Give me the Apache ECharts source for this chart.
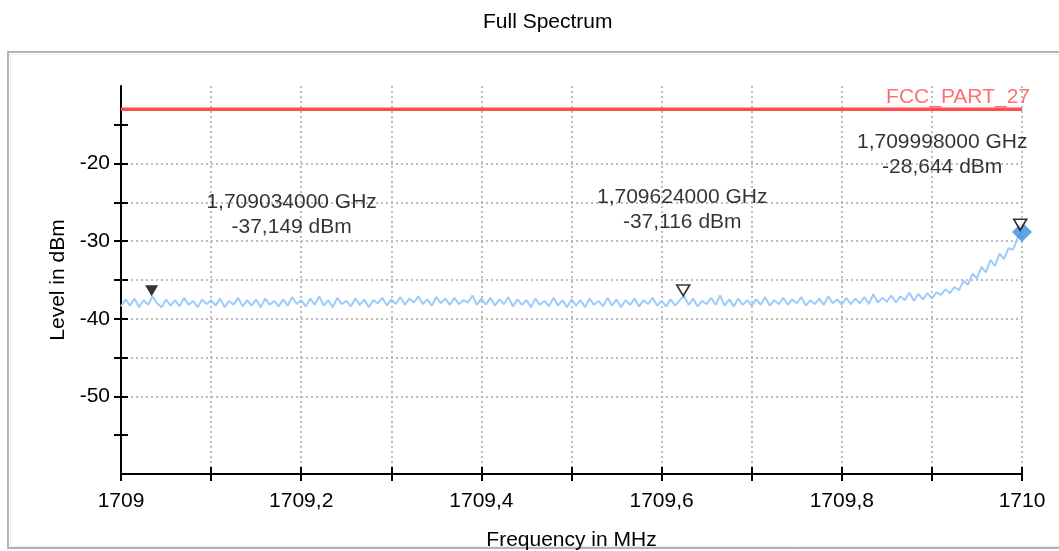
<!DOCTYPE html>
<html><head><meta charset="utf-8">
<script src="https://cdn.jsdelivr.net/npm/echarts@6/dist/echarts.min.js"></script>
<style>html,body{margin:0;padding:0;background:#fff}#c{width:1059px;height:551px}</style>
</head><body><div id="c"></div>
<script>
const chartTitle = 'Full Spectrum';
const xName = 'Frequency in MHz';
const yName = 'Level in dBm';
const freqStart = 1709;
const freqStep = 0.005;
const traceLevels = [
-38.4,-37.5,-38.3,-37.4,-38.5,-37.6,-38.2,-37.1,-38.0,-38.5,-37.5,-38.3,-37.6,-38.4,-37.3,-38.2,-37.7,-38.5,-37.5,-38.1,-37.6,
-38.3,-37.4,-38.5,-37.7,-38.2,-37.3,-38.4,-37.6,-38.3,-37.5,-38.5,-37.4,-38.2,-37.7,-38.4,-37.5,-38.3,-37.2,-38.1,-37.6,
-38.4,-37.4,-38.2,-37.1,-38.3,-37.6,-38.5,-37.3,-38.1,-37.7,-38.4,-37.4,-38.2,-37.5,-38.5,-37.6,-38.0,-37.3,-38.3,-37.5,
-38.1,-37.2,-38.2,-37.4,-37.9,-37.1,-38.1,-37.5,-38.3,-37.2,-38.0,-37.4,-38.2,-37.3,-38.1,-37.6,-37.9,-37.0,-38.2,-37.4,
-38.2,-37.3,-38.3,-37.5,-38.1,-37.2,-38.4,-37.5,-38.2,-37.6,-38.5,-37.4,-38.2,-37.7,-38.4,-37.3,-38.3,-37.6,-38.5,-37.5,
-38.3,-37.6,-38.5,-37.4,-38.2,-37.7,-38.4,-37.3,-38.3,-37.5,-38.5,-37.6,-38.2,-37.4,-38.4,-37.6,-38.1,-37.3,-38.3,-37.7,
-38.4,-37.5,-38.3,-37.6,-37.1,-38.2,-37.4,-38.4,-37.7,-38.1,-37.3,-38.2,-37.0,-38.3,-37.5,-38.4,-37.4,-38.2,-37.6,-38.3,
-37.5,-38.2,-37.2,-38.3,-37.6,-38.1,-37.3,-38.2,-37.5,-38.0,-37.2,-38.3,-37.6,-38.1,-37.4,-38.2,-37.1,-38.0,-37.5,-38.2,
-37.3,-38.1,-37.4,-38.0,-37.2,-38.1,-36.8,-37.9,-37.3,-37.8,-37.0,-37.9,-37.1,-37.6,-36.6,-37.7,-36.8,-37.5,-36.7,-37.4,
-36.6,-36.9,-36.2,-36.7,-35.9,-36.3,-35.1,-35.6,-34.2,-34.8,-33.3,-34.0,-32.4,-33.2,-31.6,-32.3,-30.9,-31.1,-29.6,-28.8
];
const xTickValues = [1709,1709.1,1709.2,1709.3,1709.4,1709.5,1709.6,1709.7,1709.8,1709.9,1710];
const xLabelValues = [1709,1709.2,1709.4,1709.6,1709.8,1710];
const xLabelTexts = ['1709','1709,2','1709,4','1709,6','1709,8','1710'];
const yTickValues = [-55,-50,-45,-40,-35,-30,-25,-20,-15];
const yLabelValues = [-50,-40,-30,-20];
const yLabelTexts = ['-50','-40','-30','-20'];
const limitName = 'FCC_PART_27';
const limitFreqs = [1709, 1710];
const limitLevels = [-13, -13];
const markerFreqs = [1709.034, 1709.624, 1709.998];
const markerLevels = [-37.149, -37.116, -28.644];
const markerFilled = [true, false, false];
const markerTexts = ['1,709034000 GHz\n-37,149 dBm', '1,709624000 GHz\n-37,116 dBm', '1,709998000 GHz\n-28,644 dBm'];

const FONT = 'Liberation Sans';
const labelOffsets = [[140,-82],[-1,-87],[-78,-76]];
const traceData = traceLevels.map((v,i)=>[+(freqStart+i*freqStep).toFixed(3), v]);
const lastPt = traceData[traceData.length-1];

function lookup(vals, texts, v){
  for (let i=0;i<vals.length;i++) if (Math.abs(vals[i]-v)<1e-6) return texts[i];
  return '';
}
const triPath = 'path://M0,0L12,0L6,11Z';

const chart = echarts.init(document.getElementById('c'), null, {renderer:'canvas'});
chart.setOption({
  animation: false,
  backgroundColor: '#fff',
  title: {text: chartTitle, left: 478, top: 7,
    textStyle: {fontFamily: FONT, fontSize: 21, fontWeight: 'normal', color: '#000'}},
  graphic: [
    {type:'rect', silent:true, z:-10, shape:{x:8,y:52,width:1100,height:496},
     style:{fill:'none', stroke:'#b4b4b4', lineWidth:2}},
    {type:'rect', silent:true, z:-10, shape:{x:10.5,y:54.5,width:1100,height:492},
     style:{fill:'none', stroke:'#ececec', lineWidth:1}}
  ],
  grid: {left: 121, right: 37, top: 86, bottom: 77, outerBoundsMode: 'none', containLabel: false},
  xAxis: [{
    type: 'value', min: 1709, max: 1710, interval: 0.1, position: 'bottom',
    name: xName, nameLocation: 'middle', nameGap: 56,
    nameTextStyle: {fontFamily: FONT, fontSize: 21, color: '#000'},
    axisLine: {show: true, lineStyle: {color: '#000', width: 2}},
    axisTick: {show: true, length: 7, customValues: xTickValues, lineStyle: {color: '#000', width: 2}},
    axisLabel: {show: true, customValues: xLabelValues, margin: 17, fontFamily: FONT, fontSize: 21, color: '#000',
      formatter: v => lookup(xLabelValues, xLabelTexts, v)},
    splitLine: {show: true, showMinLine: false, lineStyle: {color: '#a8a8a8', type: [2,3], width: 1.5}}
  },{
    type: 'value', min: 1709, max: 1710, interval: 0.1, position: 'bottom',
    axisLine: {show: false},
    axisTick: {show: true, inside: true, length: 7, customValues: xTickValues, lineStyle: {color: '#000', width: 2}},
    axisLabel: {show: false}, splitLine: {show: false}
  }],
  yAxis: [{
    type: 'value', min: -60, max: -10, interval: 5, position: 'left',
    name: yName, nameLocation: 'middle', nameGap: 50,
    nameTextStyle: {fontFamily: FONT, fontSize: 21, color: '#000'},
    axisLine: {show: true, lineStyle: {color: '#000', width: 2}},
    axisTick: {show: true, length: 7, customValues: yTickValues, lineStyle: {color: '#000', width: 2}},
    axisLabel: {show: true, customValues: yLabelValues, margin: 11, fontFamily: FONT, fontSize: 21, color: '#000',
      formatter: v => lookup(yLabelValues, yLabelTexts, v)},
    splitLine: {show: true, showMinLine: false, showMaxLine: false, lineStyle: {color: '#a8a8a8', type: [2,3], width: 1.5}}
  },{
    type: 'value', min: -60, max: -10, interval: 5, position: 'left',
    axisLine: {show: false},
    axisTick: {show: true, inside: true, length: 7, customValues: yTickValues, lineStyle: {color: '#000', width: 2}},
    axisLabel: {show: false}, splitLine: {show: false}
  }],
  series: [
    {type:'line', name:'trace', data: traceData, showSymbol:false, silent:true,
     lineStyle:{color:'#9ecbfb', width:2}, z:3},
    {type:'line', name:'limit', data: limitFreqs.map((f,i)=>[f, limitLevels[i]]), symbol:'none', silent:true,
     lineStyle:{color:'#ff4d4d', width:3.5}, z:3},
    {type:'scatter', name:'limitLabel', silent:true, symbolSize:1, itemStyle:{color:'transparent'}, z:4,
     data:[[limitFreqs[1], limitLevels[1]]],
     label:{show:true, position:'inside', align:'right', offset:[8,-12], formatter: limitName,
       fontFamily: FONT, fontSize: 21, color:'#ff4d4d'}},
    {type:'scatter', name:'cursor', silent:true, symbol:'diamond', symbolSize:[20,20],
     itemStyle:{color:'#3a8edb'}, data:[lastPt], z:5},
    {type:'scatter', name:'markers', silent:true, symbol: triPath, symbolSize:[13,11], symbolOffset:[0,-6],
     z:6,
     data: markerFreqs.map((f,i)=>({value:[f, markerLevels[i]],
       itemStyle: markerFilled[i] ? {color:'#000'} : {color:'#fff', borderColor:'#000', borderWidth:1.6}}))},
    {type:'scatter', name:'markerLabels', silent:true, symbolSize:1, itemStyle:{color:'transparent'}, z:7,
     data: markerFreqs.map((f,i)=>({value:[f, markerLevels[i]],
       label:{show:true, position:'inside', offset: labelOffsets[i], formatter: markerTexts[i],
         fontFamily: FONT, fontSize: 21, lineHeight: 25, color:'#000', align:'center'}}))}
  ]
});
</script></body></html>
